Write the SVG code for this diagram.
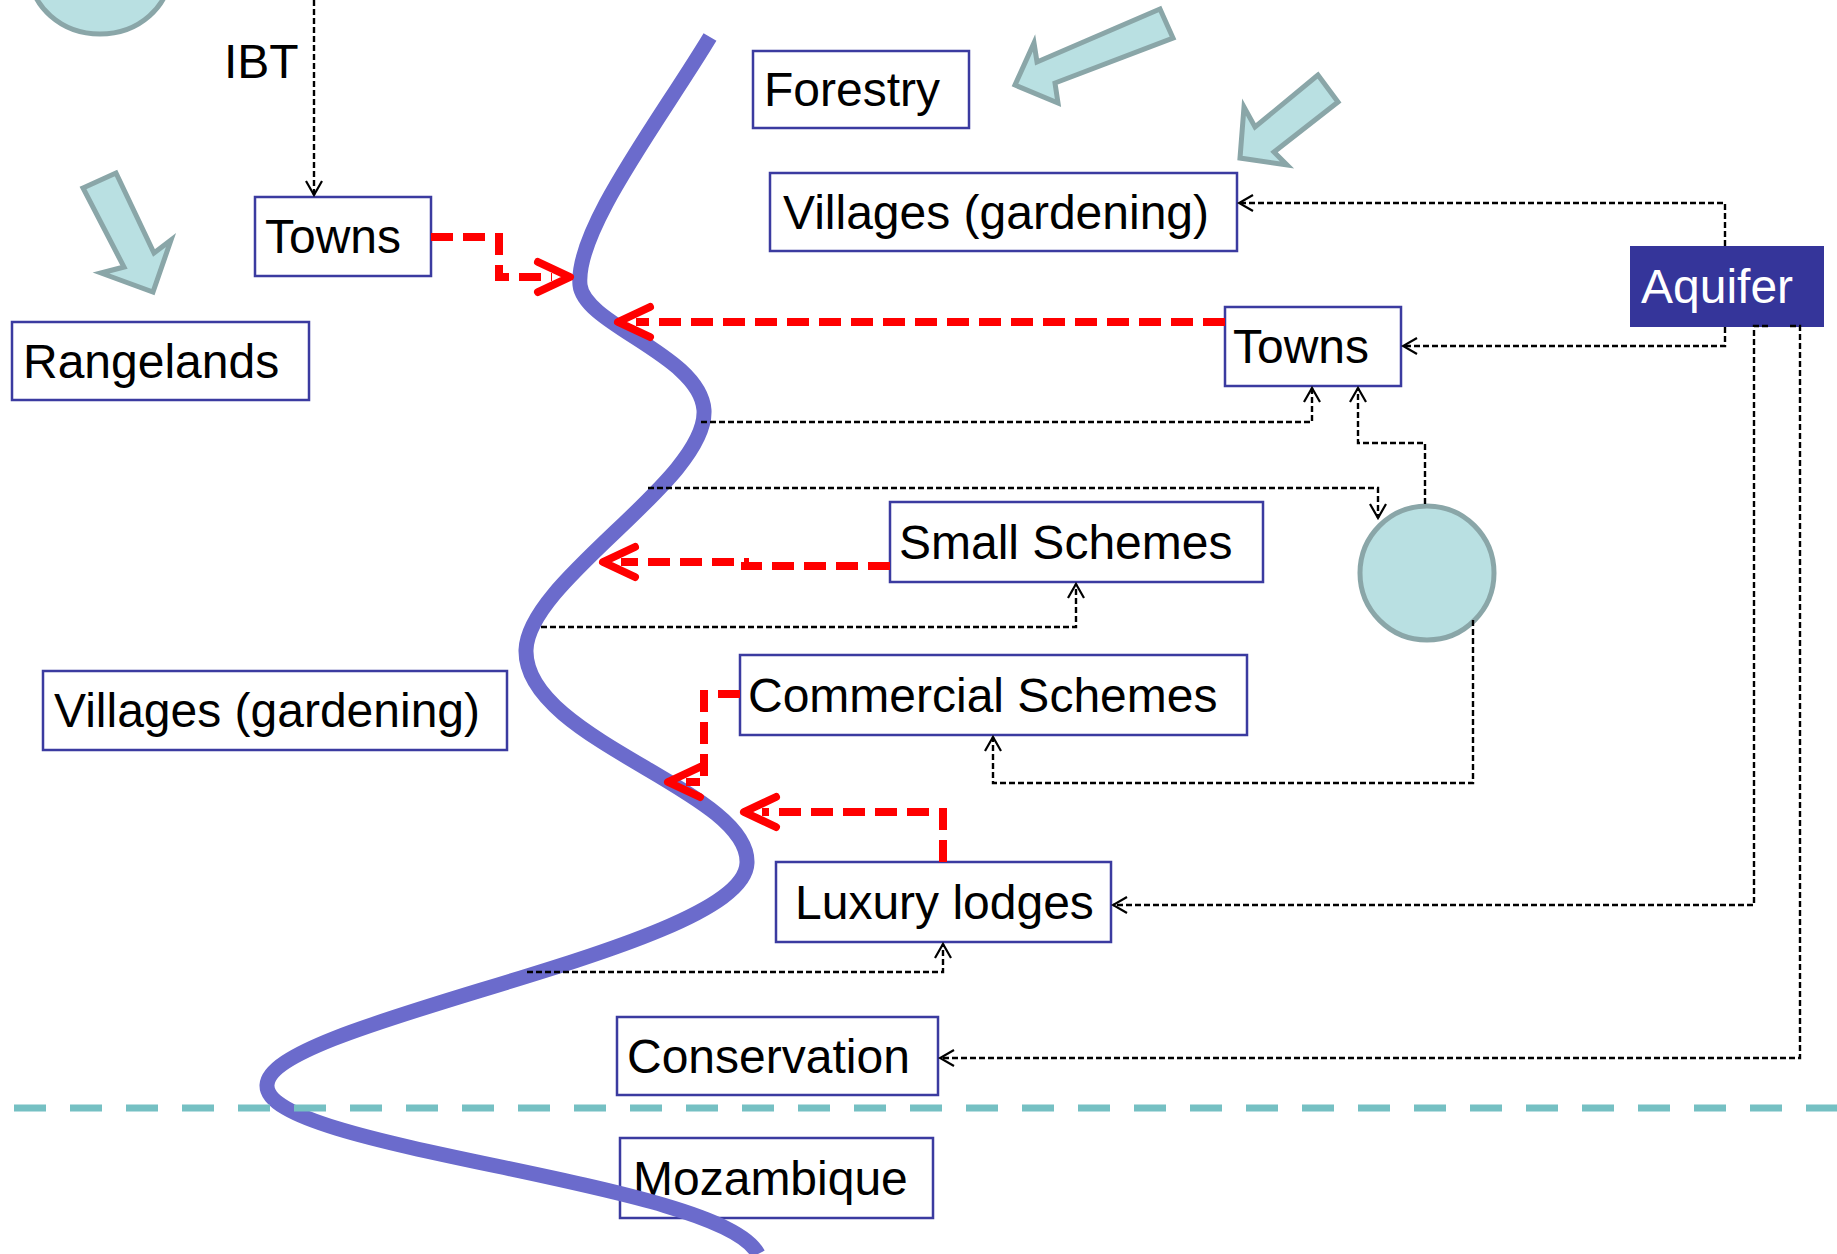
<svg xmlns="http://www.w3.org/2000/svg" width="1837" height="1254" viewBox="0 0 1837 1254">
<style>
.box{fill:#ffffff;stroke:#3b3ba0;stroke-width:2.5}
.t{font-family:"Liberation Sans",Arial,sans-serif;font-size:48px;fill:#000}
.blk{fill:#b9e0e2;stroke:#8aa6a8;stroke-width:5;stroke-linejoin:miter}
.c{fill:none;stroke:#000;stroke-width:2.4;stroke-dasharray:6 3;marker-end:url(#ah)}
.r{fill:none;stroke:#ff0000;stroke-width:8;stroke-dasharray:22 10;marker-end:url(#rh)}
</style>
<defs>
<marker id="ah" markerUnits="userSpaceOnUse" viewBox="-16 -10 18 20" markerWidth="18" markerHeight="20" refX="0" refY="0" orient="auto">
<path d="M-14,-8 L0,0 L-14,8" fill="none" stroke="#000" stroke-width="2.2"/>
</marker>
<marker id="rh" markerUnits="userSpaceOnUse" viewBox="-20 -22 46 44" markerWidth="46" markerHeight="44" refX="0" refY="0" orient="auto">
<path d="M-14,-15 L18,0 L-14,15" fill="none" stroke="#ff0000" stroke-width="8" stroke-linecap="round" stroke-linejoin="round"/>
</marker>
</defs>
<rect width="1837" height="1254" fill="#ffffff"/>

<g id="shapes">
<ellipse id="lake-top" cx="100" cy="-28" rx="70" ry="62" class="blk"/>
<ellipse id="dam" cx="1427" cy="573" rx="67" ry="67" class="blk"/>
<polygon id="arrow-left" class="blk" points="83,188 116,173 154,253 171,240 153,292 101,273 124,267"/>
<polygon id="arrow-top1" class="blk" points="1160,9 1037,62 1034,43 1015,85 1058,103 1055,83 1173,38"/>
<polygon id="arrow-top2" class="blk" points="1318,75 1255,127 1244,107 1240,158 1287,165 1274,152 1338,102"/>
</g>

<g id="node-ibt"><text class="t" x="224" y="78">IBT</text></g>
<g id="node-towns-left"><rect class="box" x="255" y="197" width="176" height="79"/><text class="t" x="265" y="253">Towns</text></g>
<g id="node-rangelands"><rect class="box" x="12" y="322" width="297" height="78"/><text class="t" x="23" y="378">Rangelands</text></g>
<g id="node-forestry"><rect class="box" x="753" y="51" width="216" height="77"/><text class="t" x="764" y="106">Forestry</text></g>
<g id="node-villages-right"><rect class="box" x="770" y="173" width="467" height="78"/><text class="t" x="783" y="229">Villages (gardening)</text></g>
<g id="node-aquifer"><rect x="1630" y="246" width="194" height="81" fill="#35359a"/><text class="t" x="1641" y="303" style="fill:#ffffff">Aquifer</text></g>
<g id="node-towns-right"><rect class="box" x="1225" y="307" width="176" height="79"/><text class="t" x="1233" y="363">Towns</text></g>
<g id="node-small-schemes"><rect class="box" x="890" y="502" width="373" height="80"/><text class="t" x="899" y="559">Small Schemes</text></g>
<g id="node-commercial-schemes"><rect class="box" x="740" y="655" width="507" height="80"/><text class="t" x="748" y="712">Commercial Schemes</text></g>
<g id="node-villages-left"><rect class="box" x="43" y="671" width="464" height="79"/><text class="t" x="54" y="727">Villages (gardening)</text></g>
<g id="node-luxury-lodges"><rect class="box" x="776" y="862" width="335" height="80"/><text class="t" x="795" y="919">Luxury lodges</text></g>
<g id="node-conservation"><rect class="box" x="617" y="1017" width="321" height="78"/><text class="t" x="627" y="1073">Conservation</text></g>
<g id="node-mozambique"><rect class="box" x="620" y="1138" width="313" height="80"/><text class="t" x="633" y="1195">Mozambique</text></g>

<g id="river">
<path d="M710 37 C660 120 575 230 580 285 C584 325 700 355 704 410 C708 480 528 580 526 650 C524 740 750 790 747 863 C744 950 270 1020 267 1085 C264 1150 720 1180 758 1254" fill="none" stroke="#6b6bcc" stroke-width="15"/>
</g>

<g id="border">
<line x1="14" y1="1108" x2="1837" y2="1108" stroke="#75c0c3" stroke-width="7" stroke-dasharray="32 24"/>
</g>

<g id="connectors">
<path class="c" d="M314 0 V195"/>
<path class="c" d="M1725 246 V203 H1239"/>
<path class="c" d="M1725 327 V346 H1403"/>
<path class="c" d="M1768 326 H1754 V905 H1113"/>
<path class="c" d="M1790 326 H1800 V1058 H940"/>
<path class="c" d="M701 422 H1312 V388"/>
<path class="c" d="M1425 504 V443 H1358 V388"/>
<path class="c" d="M648 488 H1378 V518"/>
<path class="c" d="M541 627 H1076 V584"/>
<path class="c" d="M1473 620 V783 H993 V737"/>
<path class="c" d="M527 972 H943 V944"/>
<path class="r" d="M431 237 H499 V277 H552"/>
<path class="r" d="M1225 322 H636"/>
<path class="r" d="M890 566 H745 V562 H621"/>
<path class="r" d="M740 694 H704 V782 H686"/>
<path class="r" d="M943 862 V812 H762"/>
</g>
</svg>
